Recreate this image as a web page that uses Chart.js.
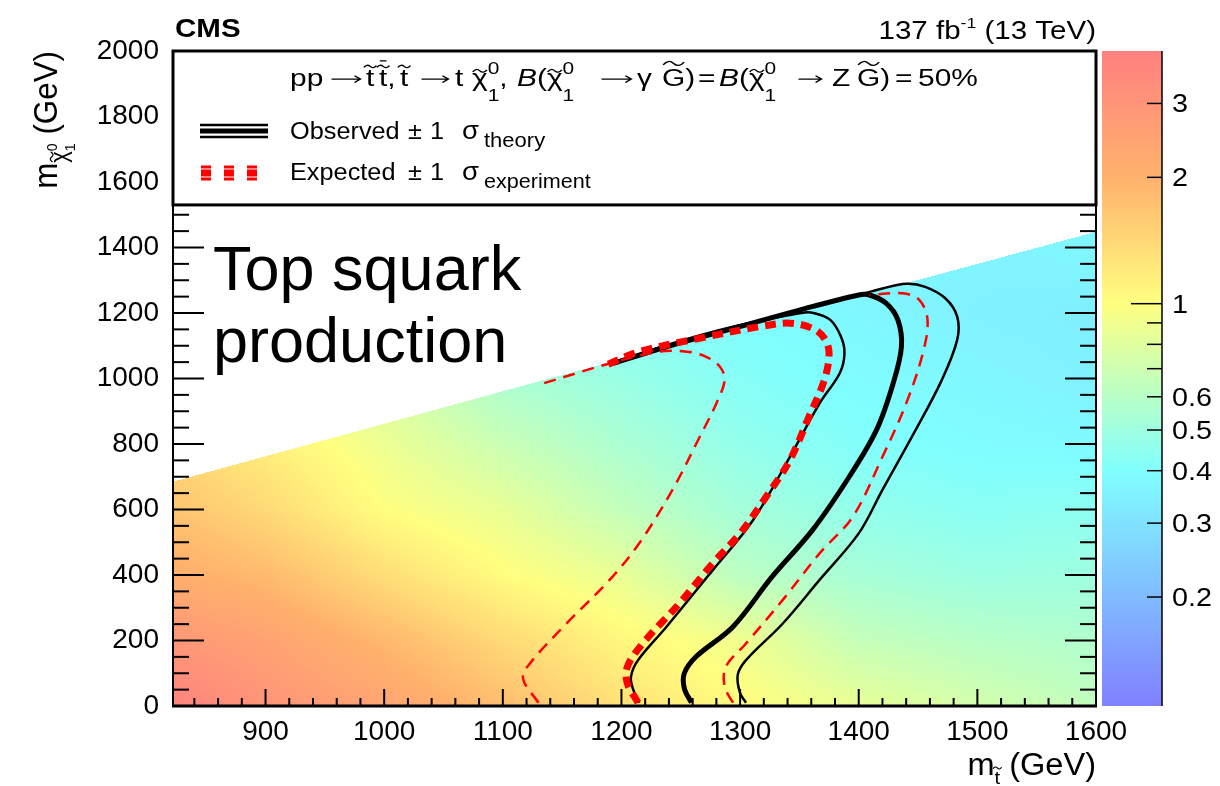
<!DOCTYPE html>
<html>
<head>
<meta charset="utf-8">
<script src="https://cdn.jsdelivr.net/npm/chart.js@4.4.1/dist/chart.umd.min.js"></script>
<style>
  html, body { margin: 0; padding: 0; background: #fff; }
</style>
</head>
<body>
<canvas id="limitChart" width="1220" height="786"></canvas>
<script>
const heatStop = [822, 900, 1000, 1100, 1200, 1300, 1400, 1500, 1600];
const heatChi = [0, 200, 400, 600, 800, 1000, 1200, 1400];
const lim0    = [3.8, 3.0, 2.4, 1.8, 1.3, 1.02, 0.85, 0.73, 0.64];
const lim200  = [2.9, 2.5, 1.9, 1.4, 1.08, 0.9, 0.66, 0.6, 0.57];
const lim400  = [2.1, 1.85, 1.35, 1.02, 0.85, 0.62, 0.53, 0.49, 0.5];
const lim600  = [1.7, 1.4, 1.0, 0.85, 0.65, 0.52, 0.46, 0.43, 0.44];
const lim800  = [1.4, 1.15, 0.88, 0.68, 0.55, 0.46, 0.41, 0.39, 0.38];
const lim1000 = [null, null, 0.75, 0.55, 0.48, 0.42, 0.39, 0.37, 0.35];
const lim1200 = [null, null, null, null, 0.44, 0.4, 0.37, 0.35, 0.34];
const lim1400 = [null, null, null, null, null, 0.38, 0.36, 0.36, 0.37];
const limitGrid = [lim0, lim200, lim400, lim600, lim800, lim1000, lim1200, lim1400];

// upper edge of the scanned region
const edgeStop = [822, 1134, 1444, 1600];
const edgeChi = [685, 995, 1295, 1448];

// contours
const obsStop = [1259, 1253, 1253, 1263, 1294, 1327, 1361, 1392, 1415, 1429, 1436, 1433, 1423, 1409, 1400, 1350, 1294, 1238, 1193];
const obsChi  = [10, 54, 100, 151, 242, 395, 537, 700, 843, 985, 1097, 1179, 1230, 1255, 1255, 1209, 1153, 1097, 1046];
const obsDownStop = [1215, 1210, 1208, 1214, 1238, 1277, 1311, 1342, 1367, 1384, 1388, 1385, 1376, 1361, 1350, 1294, 1238, 1193];
const obsDownChi  = [10, 49, 89, 140, 242, 415, 568, 761, 924, 1016, 1077, 1128, 1179, 1201, 1199, 1158, 1102, 1046];
const obsUpStop = [1305, 1300, 1298, 1305, 1336, 1367, 1400, 1420, 1448, 1470, 1483, 1483, 1473, 1456, 1440, 1420, 1400];
const obsUpChi  = [10, 39, 95, 140, 252, 385, 527, 660, 843, 995, 1118, 1189, 1245, 1280, 1289, 1275, 1255];
const expStop = [1214, 1205, 1205, 1218, 1249, 1277, 1300, 1322, 1342, 1358, 1371, 1375, 1371, 1361, 1342, 1316, 1266, 1215, 1187];
const expChi  = [10, 69, 120, 191, 314, 436, 527, 639, 751, 883, 995, 1077, 1123, 1153, 1169, 1158, 1123, 1082, 1041];
const expDownStop = [1130, 1117, 1124, 1154, 1190, 1215, 1243, 1266, 1280, 1287, 1283, 1271, 1255, 1232, 1190, 1134];
const expDownChi  = [10, 85, 135, 253, 385, 497, 660, 822, 924, 995, 1036, 1067, 1082, 1082, 1046, 985];
const expUpStop = [1294, 1287, 1288, 1305, 1336, 1367, 1395, 1420, 1440, 1454, 1458, 1451, 1437, 1409];
const expUpChi  = [10, 59, 120, 191, 324, 466, 578, 761, 924, 1077, 1179, 1240, 1260, 1255];

const xTicks = [900, 1000, 1100, 1200, 1300, 1400, 1500, 1600];
const zTicks = [0.2, 0.3, 0.4, 0.5, 0.6, 0.7, 0.8, 0.9, 1, 2, 3];
const zLabels = ['0.2', '0.3', '0.4', '0.5', '0.6', '', '', '', '1', '2', '3'];

const FONT = '"Liberation Sans", Arial, Helvetica, sans-serif';
const Z_MIN = 0.11, Z_MAX = 4.0;

// pastel rainbow, position in log range
const paletteStops = [
  [0.0, [128, 128, 255]],
  [0.359, [128, 255, 255]],
  [0.614, [255, 255, 128]],
  [0.807, [255, 178, 108]],
  [1.0, [255, 128, 128]]
];

function paletteColor(v) {
  let t = (Math.log10(v) - Math.log10(Z_MIN)) / (Math.log10(Z_MAX) - Math.log10(Z_MIN));
  t = Math.max(0, Math.min(1, t));
  for (let i = 1; i < paletteStops.length; i++) {
    if (t <= paletteStops[i][0]) {
      const [t0, c0] = paletteStops[i - 1];
      const [t1, c1] = paletteStops[i];
      const f = (t - t0) / (t1 - t0);
      return [0, 1, 2].map(k => Math.round(c0[k] + (c1[k] - c0[k]) * f));
    }
  }
  return paletteStops[paletteStops.length - 1][1];
}

function lerpTable(xs, ys, v) {
  if (v <= xs[0]) return ys[0];
  for (let i = 1; i < xs.length; i++) {
    if (v <= xs[i]) return ys[i - 1] + (ys[i] - ys[i - 1]) * (v - xs[i - 1]) / (xs[i] - xs[i - 1]);
  }
  return ys[ys.length - 1];
}

function findCell(nodes, v) {
  let i = 0;
  while (i < nodes.length - 2 && v > nodes[i + 1]) i++;
  const f = Math.max(0, Math.min(1, (v - nodes[i]) / (nodes[i + 1] - nodes[i])));
  return [i, f];
}

function limitAt(ms, mc) {
  const [i, fx] = findCell(heatStop, ms);
  const [j, fy] = findCell(heatChi, mc);
  const corners = [
    [limitGrid[j][i], (1 - fx) * (1 - fy)],
    [limitGrid[j][i + 1], fx * (1 - fy)],
    [limitGrid[j + 1][i], (1 - fx) * fy],
    [limitGrid[j + 1][i + 1], fx * fy]
  ];
  let sum = 0, wsum = 0;
  corners.forEach(([v, w]) => {
    if (v !== null) { sum += Math.log(v) * w; wsum += w; }
  });
  if (wsum === 0) return null;
  return Math.exp(sum / wsum);
}

function toPoints(xs, ys) {
  return xs.map((v, i) => ({ x: v, y: ys[i] }));
}

function fontOf(p, s) {
  return (p.it ? 'italic ' : '') + (p.b ? 'bold ' : '') + s + 'px ' + FONT;
}

function tildePath(ctx, x0, cy, w, lw) {
  const h = w * 0.22;
  ctx.save();
  ctx.lineWidth = lw;
  ctx.beginPath();
  ctx.moveTo(x0, cy + h * 0.4);
  ctx.quadraticCurveTo(x0 + w * 0.25, cy - h * 1.3, x0 + w * 0.5, cy);
  ctx.quadraticCurveTo(x0 + w * 0.75, cy + h * 1.3, x0 + w, cy - h * 0.4);
  ctx.stroke();
  ctx.restore();
}

// text with sub/superscripts, tildes and arrows; sx stretches it along the writing direction
function drawRich(ctx, parts, x, y, size, align, sx) {
  sx = sx || 1;
  const widths = parts.map(p => {
    const s = size * (p.k || 1);
    if (p.arrow) return p.arrow * s;
    if (p.hold) return 0;
    ctx.font = fontOf(p, s);
    return ctx.measureText(p.t).width;
  });
  const total = widths.reduce((a, b) => a + b, 0);
  ctx.save();
  ctx.translate(x, y);
  ctx.scale(sx, 1);
  ctx.textAlign = 'left';
  ctx.textBaseline = 'alphabetic';
  ctx.strokeStyle = ctx.fillStyle;
  let cx = align === 'right' ? -total : (align === 'center' ? -total / 2 : 0);
  parts.forEach((p, i) => {
    const s = size * (p.k || 1);
    const by = (p.dy || 0) * size;
    if (p.arrow) {
      const w = widths[i], ay = by - s * 0.3;
      ctx.lineWidth = s * 0.055;
      ctx.beginPath();
      ctx.moveTo(cx + s * 0.05, ay);
      ctx.lineTo(cx + w - s * 0.05, ay);
      ctx.moveTo(cx + w - s * 0.25, ay - s * 0.15);
      ctx.lineTo(cx + w - s * 0.05, ay);
      ctx.lineTo(cx + w - s * 0.25, ay + s * 0.15);
      ctx.stroke();
    } else {
      ctx.font = fontOf(p, s);
      const w = ctx.measureText(p.t).width;
      ctx.fillText(p.t, cx, by);
      if (p.tilde) {
        const tw = Math.max(w * 0.9, s * 0.42);
        tildePath(ctx, cx + (w - tw) / 2, by - s * (p.tildeUp || 0.85), tw, s * 0.055);
      }
      if (p.bar) {
        ctx.fillRect(cx + w * 0.1, by - s * 1.12, w * 0.8, Math.max(1, s * 0.055));
      }
    }
    cx += widths[i];
  });
  ctx.restore();
}

function hLine(ctx, x0, y0, x1, y1) {
  ctx.beginPath();
  ctx.moveTo(x0, y0);
  ctx.lineTo(x1, y1);
  ctx.stroke();
}

const chi01 = [{ t: 'χ', tilde: true, tildeUp: 0.66 }, { t: '0', k: 0.7, dy: -0.52, hold: true }, { t: '1', k: 0.7, dy: 0.66 }];

const heatPlugin = {
  id: 'heat',
  beforeDatasetsDraw(chart) {
    const { ctx, chartArea: a, scales: { x, y } } = chart;
    const w = Math.round(a.right - a.left), h = Math.round(a.bottom - a.top);
    const off = document.createElement('canvas');
    off.width = w; off.height = h;
    const octx = off.getContext('2d');
    const img = octx.createImageData(w, h);
    for (let i = 0; i < w; i++) {
      const ms = x.getValueForPixel(a.left + i + 0.5);
      const top = lerpTable(edgeStop, edgeChi, ms);
      for (let j = 0; j < h; j++) {
        const mc = y.getValueForPixel(a.top + j + 0.5);
        if (mc > top) continue;
        const v = limitAt(ms, mc);
        if (v === null) continue;
        const c = paletteColor(v);
        const k = (j * w + i) * 4;
        img.data[k] = c[0]; img.data[k + 1] = c[1]; img.data[k + 2] = c[2]; img.data[k + 3] = 255;
      }
    }
    octx.putImageData(img, 0, 0);
    ctx.drawImage(off, a.left, a.top);
  }
};

const framePlugin = {
  id: 'frame',
  afterDatasetsDraw(chart) {
    const { ctx, chartArea: a, scales: { x, y, z } } = chart;
    ctx.save();
    ctx.strokeStyle = '#000';
    ctx.fillStyle = '#000';
    ctx.lineWidth = 2;

    // inner ticks
    for (let v = 840; v <= 1600; v += 20) {
      const px = x.getPixelForValue(v);
      hLine(ctx, px, a.bottom, px, a.bottom - (v % 100 === 0 ? 17 : 8));
    }
    for (let v = 0; v <= 2000; v += 50) {
      const py = y.getPixelForValue(v);
      const len = v % 200 === 0 ? 31 : 16;
      hLine(ctx, a.left, py, a.left + len, py);
      hLine(ctx, a.right, py, a.right - len, py);
    }

    // frame
    hLine(ctx, a.left, a.top, a.left, a.bottom);
    hLine(ctx, a.right, a.top, a.right, a.bottom);
    ctx.lineWidth = 3;
    hLine(ctx, a.left - 1, a.bottom, a.right + 1, a.bottom);

    // legend box
    const boxBottom = y.getPixelForValue(1530);
    ctx.fillStyle = '#fff';
    ctx.fillRect(a.left, a.top, a.right - a.left, boxBottom - a.top);
    ctx.lineWidth = 3;
    ctx.strokeRect(a.left, a.top, a.right - a.left, boxBottom - a.top);
    ctx.fillStyle = '#000';

    const ty = 86, ts = 23, tsx = 1.3;
    const title = [
      [290, [{ t: 'pp' }]],
      [330, [{ arrow: 1.07 }]],
      [366, [{ t: 't', tilde: true }]],
      [379, [{ t: 't', tilde: true, bar: true }, { t: ',' }]],
      [400, [{ t: 't', tilde: true }]],
      [420, [{ arrow: 1.0 }]],
      [455, [{ t: 't' }]],
      [472, chi01.concat([{ t: ',' }])],
      [517, [{ t: 'B', it: true }, { t: '(' }].concat(chi01)],
      [600, [{ arrow: 1.1 }]],
      [637, [{ t: 'γ' }]],
      [662, [{ t: 'G', tilde: true, tildeUp: 0.98 }, { t: ')' }]],
      [698, [{ t: '=' }]],
      [719, [{ t: 'B', it: true }, { t: '(' }].concat(chi01)],
      [797, [{ arrow: 0.87 }]],
      [832, [{ t: 'Z' }]],
      [857, [{ t: 'G', tilde: true, tildeUp: 0.98 }, { t: ')' }]],
      [895, [{ t: '=' }]],
      [918, [{ t: '50%' }]]
    ];
    title.forEach(([tx, parts]) => drawRich(ctx, parts, tx, ty, ts, 'left', tsx));

    // observed sample
    ctx.strokeStyle = '#000';
    ctx.lineWidth = 5;
    hLine(ctx, 200, 131, 268, 131);
    ctx.lineWidth = 2.5;
    hLine(ctx, 200, 125, 268, 125);
    hLine(ctx, 200, 137, 268, 137);
    drawRich(ctx, [{ t: 'Observed' }], 290, 139, 23, 'left', 1.1);
    drawRich(ctx, [{ t: '±' }], 408, 139, 23, 'left', 1.1);
    drawRich(ctx, [{ t: '1' }], 430, 139, 23, 'left', 1.1);
    drawRich(ctx, [{ t: 'σ' }], 462, 139, 25, 'left', 1.1);
    drawRich(ctx, [{ t: 'theory' }], 484, 147, 20, 'left', 1.1);

    // expected sample
    ctx.strokeStyle = '#ff0000';
    ctx.setLineDash([10, 13]);
    ctx.lineWidth = 7;
    hLine(ctx, 201, 173, 262, 173);
    ctx.lineWidth = 3;
    hLine(ctx, 201, 167, 262, 167);
    hLine(ctx, 201, 179, 262, 179);
    ctx.setLineDash([]);
    drawRich(ctx, [{ t: 'Expected' }], 290, 180, 23, 'left', 1.1);
    drawRich(ctx, [{ t: '±' }], 408, 180, 23, 'left', 1.1);
    drawRich(ctx, [{ t: '1' }], 430, 180, 23, 'left', 1.1);
    drawRich(ctx, [{ t: 'σ' }], 462, 180, 25, 'left', 1.1);
    drawRich(ctx, [{ t: 'experiment' }], 484, 188, 20, 'left', 1.08);

    // labels
    drawRich(ctx, [{ t: 'CMS', b: true }], 175, 37, 25, 'left', 1.18);
    drawRich(ctx, [{ t: '137 fb' }, { t: '-1', k: 0.6, dy: -0.45 }, { t: ' (13 TeV)' }], 1096, 39, 25, 'right', 1.18);

    ctx.font = '63px ' + FONT;
    ctx.textAlign = 'left';
    ctx.fillText('Top squark', 213, 290);
    ctx.fillText('production', 213, 362);

    drawRich(ctx, [{ t: 'm' }, { t: 't', k: 0.62, dy: 0.3, tilde: true }, { t: ' (GeV)' }], 1096, 775, 31, 'right', 1.05);

    ctx.save();
    ctx.translate(57, 51);
    ctx.rotate(-Math.PI / 2);
    drawRich(ctx, [
      { t: 'm' }, { t: 'χ', k: 0.7, dy: 0.3, tilde: true, tildeUp: 0.66 },
      { t: '0', k: 0.45, dy: 0.0, hold: true }, { t: '1', k: 0.45, dy: 0.55 },
      { t: ' (GeV)' }
    ], 0, 0, 33, 'right', 0.95);
    ctx.restore();

    // colour bar
    const barL = 1102, barR = 1162;
    for (let py = Math.floor(z.top); py < Math.ceil(z.bottom); py++) {
      const c = paletteColor(z.getValueForPixel(py + 0.5));
      ctx.fillStyle = 'rgb(' + c.join(',') + ')';
      ctx.fillRect(barL, py, barR - barL, 1);
    }
    ctx.fillStyle = '#000';
    ctx.strokeStyle = '#000';
    ctx.lineWidth = 1.5;
    hLine(ctx, barR, z.top, barR, z.bottom);
    zTicks.forEach((v, i) => {
      const py = z.getPixelForValue(v);
      hLine(ctx, barR - (v === 1 ? 31 : 15), py, barR, py);
      if (zLabels[i]) drawRich(ctx, [{ t: zLabels[i] }], 1172, py + 9, 25, 'left', 1.15);
    });
    ctx.restore();
  }
};

const lineSets = [
  { d: toPoints(expDownStop, expDownChi), c: '#ff0000', w: 2.5, dash: [12, 8] },
  { d: toPoints(expUpStop, expUpChi), c: '#ff0000', w: 2.5, dash: [12, 8] },
  { d: toPoints(expStop, expChi), c: '#ff0000', w: 7, dash: [11, 7] },
  { d: toPoints(obsDownStop, obsDownChi), c: '#000000', w: 2.5, dash: [] },
  { d: toPoints(obsUpStop, obsUpChi), c: '#000000', w: 2.5, dash: [] },
  { d: toPoints(obsStop, obsChi), c: '#000000', w: 5, dash: [] }
];

const tickFont = { family: FONT, size: 28 };

new Chart(document.getElementById('limitChart'), {
  type: 'scatter',
  data: {
    datasets: lineSets.map(s => ({
      data: s.d,
      showLine: true,
      borderColor: s.c,
      borderWidth: s.w,
      borderDash: s.dash,
      pointRadius: 0,
      tension: 0.35,
      fill: false
    }))
  },
  options: {
    responsive: false,
    animation: false,
    devicePixelRatio: 1,
    layout: { padding: { top: 51, left: 0, right: 0, bottom: 0 } },
    plugins: { legend: { display: false }, tooltip: { enabled: false } },
    scales: {
      x: {
        type: 'linear', min: 822, max: 1600,
        grid: { display: false }, border: { display: false },
        afterFit: s => { s.height = 80; },
        afterBuildTicks: s => { s.ticks = xTicks.map(v => ({ value: v })); },
        ticks: { font: tickFont, color: '#000', padding: 1, maxRotation: 0, autoSkip: false, callback: v => String(v) }
      },
      y: {
        type: 'linear', min: 0, max: 2000,
        grid: { display: false }, border: { display: false },
        afterFit: s => { s.width = 173; },
        ticks: { stepSize: 200, font: tickFont, color: '#000', padding: 6, autoSkip: false, callback: v => String(v) }
      },
      z: {
        type: 'logarithmic', position: 'right', min: Z_MIN, max: Z_MAX,
        grid: { display: false }, border: { display: false },
        afterFit: s => { s.width = 124; },
        ticks: { display: false }
      }
    }
  },
  plugins: [heatPlugin, framePlugin]
});
</script>
</body>
</html>
